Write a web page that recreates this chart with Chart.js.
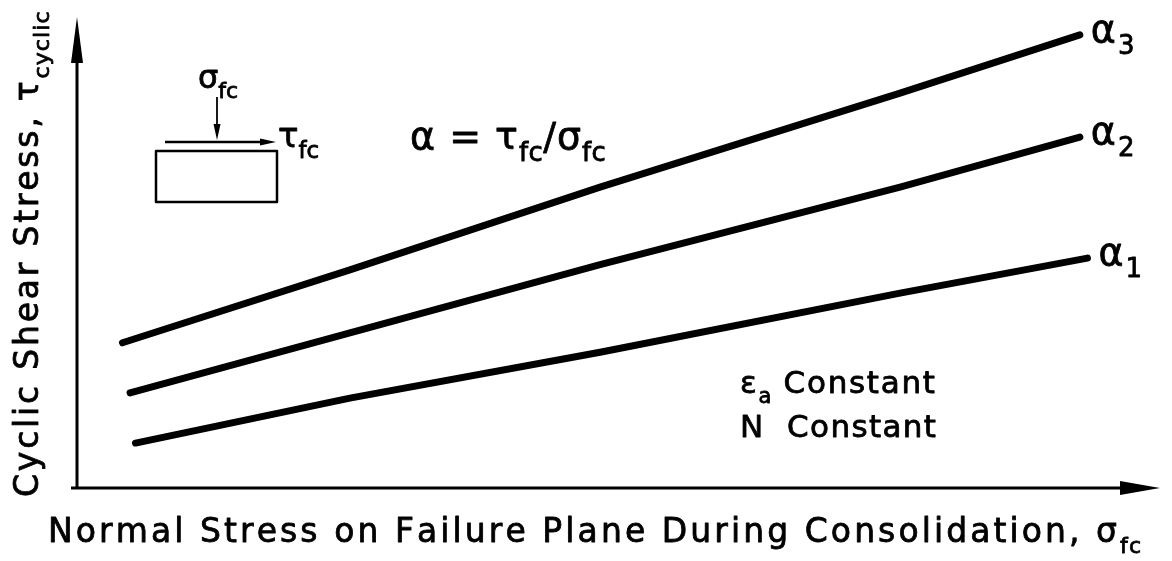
<!DOCTYPE html>
<html>
<head>
<meta charset="utf-8">
<script src="https://cdn.jsdelivr.net/npm/chart.js@4.4.0/dist/chart.umd.min.js"></script>
<style>
    html, body { margin: 0; padding: 0; background: #fff; }
    #wrap { width: 1172px; height: 561px; }
</style>
</head>
<body>
<div id="wrap"><canvas id="chart" width="1172" height="561"></canvas></div>
<script>
// Normal stress (x) and cyclic shear stress (y), arbitrary units 0-10.
const alpha1X = [0.54, 2.52, 4.83, 7.60, 9.33];
const alpha1Y = [0.95, 1.90, 2.87, 4.12, 4.86];

const alpha2X = [0.49, 2.52, 4.83, 7.60, 9.26];
const alpha2Y = [2.01, 3.28, 4.72, 6.36, 7.42];

const alpha3X = [0.42, 2.52, 4.83, 7.60, 9.26];
const alpha3Y = [3.07, 4.61, 6.36, 8.35, 9.58];

const seriesNames = ['1', '2', '3'];

const FONT = '"DejaVu Sans", sans-serif';
const INK = '#000';

function toPoints(xs, ys) {
    return xs.map((x, i) => ({ x: x, y: ys[i] }));
}

// Draw text made of runs, some of them subscripts, one glyph at a time
// so the spacing can be stretched to a given length.
function runWidth(ctx, parts, size) {
    let w = 0;
    let n = 0;
    for (const p of parts) {
        ctx.font = `${p.sub ? Math.round(size * 0.68) : size}px ${FONT}`;
        for (const ch of p.t) {
            w += ctx.measureText(ch).width;
            n++;
        }
    }
    return { w, n };
}

function drawRich(ctx, x, y, parts, size, spacing) {
    for (const p of parts) {
        const s = p.sub ? Math.round(size * 0.68) : size;
        ctx.font = `${s}px ${FONT}`;
        const dy = p.sub ? size * 0.32 : 0;
        const sp = p.sub ? spacing * 0.4 : spacing;
        for (const ch of p.t) {
            ctx.fillText(ch, x, y + dy);
            ctx.strokeText(ch, x, y + dy);
            x += ctx.measureText(ch).width + sp;
        }
    }
    return x;
}

function drawFitted(ctx, x, y, parts, size, length) {
    const m = runWidth(ctx, parts, size);
    const spacing = (length - m.w) / (m.n - 1);
    drawRich(ctx, x, y, parts, size, spacing);
}

function arrowHead(ctx, tipX, tipY, dx, dy, len, half) {
    // dx, dy: unit direction the arrow points to
    const bx = tipX - dx * len;
    const by = tipY - dy * len;
    ctx.beginPath();
    ctx.moveTo(tipX, tipY);
    ctx.lineTo(bx - dy * half, by + dx * half);
    ctx.lineTo(bx + dy * half, by - dx * half);
    ctx.closePath();
    ctx.fill();
}

const sketchPlugin = {
    id: 'sketch',
    beforeDatasetsDraw(chart) {
        const ctx = chart.ctx;
        const a = chart.chartArea;
        ctx.save();
        ctx.strokeStyle = INK;
        ctx.fillStyle = INK;
        ctx.lineWidth = 3;
        ctx.lineCap = 'butt';

        // y axis
        ctx.beginPath();
        ctx.moveTo(a.left, a.bottom + 1);
        ctx.lineTo(a.left, a.top + 20);
        ctx.stroke();
        arrowHead(ctx, a.left, a.top + 2, 0, -1, 46, 6);

        // x axis
        ctx.beginPath();
        ctx.moveTo(a.left - 6, a.bottom);
        ctx.lineTo(a.right - 20, a.bottom);
        ctx.stroke();
        arrowHead(ctx, a.right, a.bottom, 1, 0, 40, 7);
        ctx.restore();
    },
    afterDatasetsDraw(chart) {
        const ctx = chart.ctx;
        const xs = chart.scales.x;
        const ys = chart.scales.y;
        ctx.save();
        ctx.fillStyle = INK;
        ctx.strokeStyle = INK;
        ctx.lineWidth = 0.8;
        ctx.lineJoin = 'round';
        ctx.textBaseline = 'alphabetic';
        ctx.textAlign = 'left';

        // series labels at the end of each line
        chart.data.datasets.forEach((ds, i) => {
            const last = ds.data[ds.data.length - 1];
            const px = xs.getPixelForValue(last.x);
            const py = ys.getPixelForValue(last.y);
            drawRich(ctx, px + 11, py + 7, [{ t: 'α' }, { t: seriesNames[i], sub: true }], 38, 2);
        });

        // axis titles
        drawFitted(ctx, 48, 542, [
            { t: 'Normal Stress on Failure Plane During Consolidation, ' },
            { t: 'σ' }, { t: 'fc', sub: true }
        ], 33, 1095);

        ctx.save();
        ctx.translate(38, 497);
        ctx.rotate(-Math.PI / 2);
        drawFitted(ctx, 0, 0, [
            { t: 'Cyclic Shear Stress, ' },
            { t: 'τ' }, { t: 'cyclic', sub: true }
        ], 33, 494);
        ctx.restore();

        // definition of alpha
        drawRich(ctx, 410, 149, [
            { t: 'α = ' }, { t: 'τ' }, { t: 'fc', sub: true },
            { t: '/' }, { t: 'σ' }, { t: 'fc', sub: true }
        ], 38, 1);

        // test conditions
        drawFitted(ctx, 740, 393, [
            { t: 'ε' }, { t: 'a', sub: true }, { t: ' Constant' }
        ], 31, 196);
        drawFitted(ctx, 740, 437, [{ t: 'N  Constant' }], 31, 196);

        // element sketch with stresses on the failure plane
        ctx.lineWidth = 2.5;
        ctx.strokeRect(156, 151, 121, 51);
        ctx.beginPath();
        ctx.moveTo(165, 142);
        ctx.lineTo(262, 142);
        ctx.stroke();
        arrowHead(ctx, 276, 142, 1, 0, 16, 3.5);
        ctx.lineWidth = 1.8;
        ctx.beginPath();
        ctx.moveTo(217, 97);
        ctx.lineTo(217, 126);
        ctx.stroke();
        arrowHead(ctx, 217, 140, 0, 1, 16, 3.5);

        ctx.lineWidth = 0.8;
        drawRich(ctx, 198, 88, [{ t: 'σ' }, { t: 'fc', sub: true }], 32, 0);
        drawRich(ctx, 278, 147, [{ t: 'τ' }, { t: 'fc', sub: true }], 34, 0);

        ctx.restore();
    }
};

function lineDataset(xs, ys) {
    return {
        data: toPoints(xs, ys),
        showLine: true,
        borderColor: INK,
        borderWidth: 7,
        borderCapStyle: 'round',
        borderJoinStyle: 'round',
        pointRadius: 0,
        tension: 0,
        fill: false
    };
}

const ctx = document.getElementById('chart');
const chart = new Chart(ctx, {
    type: 'scatter',
    data: {
        datasets: [
            lineDataset(alpha1X, alpha1Y),
            lineDataset(alpha2X, alpha2Y),
            lineDataset(alpha3X, alpha3Y)
        ]
    },
    options: {
        responsive: false,
        animation: false,
        layout: {
            padding: { left: 77, top: 15, right: 12, bottom: 73 }
        },
        plugins: {
            legend: { display: false },
            tooltip: { enabled: false }
        },
        scales: {
            x: { type: 'linear', min: 0, max: 10, display: false },
            y: { type: 'linear', min: 0, max: 10, display: false }
        }
    },
    plugins: [sketchPlugin]
});
</script>
</body>
</html>
